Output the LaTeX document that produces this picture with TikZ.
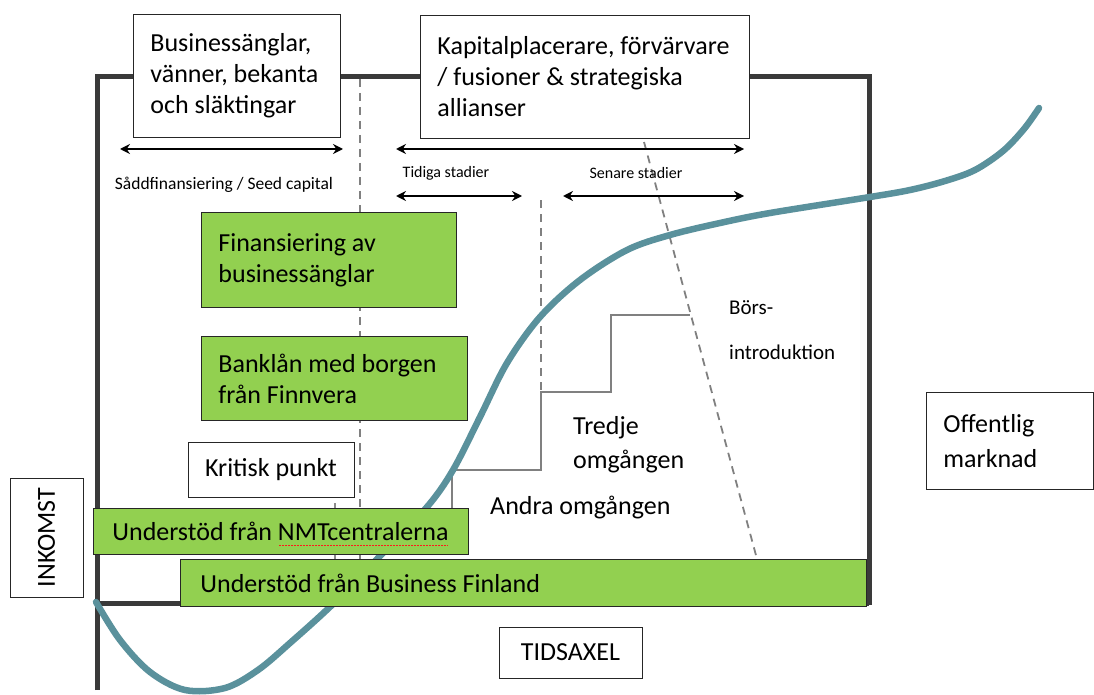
\documentclass[tikz,border=0pt]{standalone}
\usepackage{fontspec}
\setmainfont{Carlito}
\usepackage{xcolor}
\usepackage{tikz}
\usetikzlibrary{arrows.meta}
\definecolor{curveteal}{RGB}{90,145,156}
\definecolor{fundgreen}{RGB}{146,208,80}
\definecolor{framegray}{RGB}{58,58,58}
\newcommand{\labelfont}{\fontsize{26}{31}\selectfont}
\newcommand{\stagefont}{\fontsize{16}{19}\selectfont}
\newcommand{\iposfont}{\fontsize{21}{45}\selectfont}

\begin{document}
\begin{tikzpicture}[x=1pt,y=-1pt,font=\labelfont,
  box/.style={draw=black!85,fill=white,line width=0.9pt,inner ysep=0pt},
  fundbox/.style={box,fill=fundgreen},
  leftbox/.style={align=flush left,anchor=north west,inner xsep=17pt},
  frameline/.style={draw=framegray,line width=5pt},
  phaseline/.style={draw=black!50,line width=1.8pt,dash pattern=on 8pt off 6pt},
  stairline/.style={draw=black!50,line width=2pt},
  spanarrow/.style={{Stealth[length=10pt,width=10pt]}-{Stealth[length=10pt,width=10pt]},line width=1.6pt},
  growth/.style={draw=curveteal,line width=6.5pt,line cap=round}]
  \useasboundingbox (0,0) rectangle (1094,695);

  % frame, phase lines and growth curve
  \draw[frameline] (97,690) -- (97,77) -- (869,77) -- (869,605);
  \draw[frameline] (97,603) -- (869,603);
  \draw[phaseline] (360,79) -- (360,559);
  \draw[phaseline] (541,200) -- (541,392);
  \draw[phaseline] (644,142) -- (757,559);
  \draw[stairline] (452,508) -- (452,470) -- (541,470) -- (541,392)
    -- (611,392) -- (611,315) -- (690,315);
  \draw[black!45,line width=1.2pt] (335,503) -- (335,559);
  \draw[growth] plot[smooth,tension=0.55] coordinates {(96,602) (120,640)
    (150,672) (185,690) (225,688) (258,670) (290,643) (333,604) (380,556)
    (427,507) (453,470) (480,417) (507,363) (540,317) (580,280) (627,250)
    (670,235) (720,223) (770,213) (870,197) (910,190) (945,181) (975,170)
    (1003,151) (1024,129) (1039,108)};

  % span arrows
  \coordinate (seedL) at (120,149);
  \coordinate (seedR) at (343,149);
  \coordinate (laterL) at (396,149);
  \coordinate (laterR) at (744,149);
  \coordinate (earlyL) at (396,196);
  \coordinate (earlyR) at (522,196);
  \coordinate (lateL) at (563,196);
  \coordinate (lateR) at (744,196);
  \draw[spanarrow] (seedL) -- (seedR);
  \draw[spanarrow] (laterL) -- (laterR);
  \draw[spanarrow] (earlyL) -- (earlyR);
  \draw[spanarrow] (lateL) -- (lateR);
  \node[font=\fontsize{17.5}{20}\selectfont] (seedlabel) at (224,185)
    {Såddfinansiering / Seed capital};
  \node[font=\stagefont] (earlylabel) at (446,173) {Tidiga stadier};
  \node[font=\stagefont] (latelabel) at (636,173) {Senare stadier};

  % boxes
  \node[box,leftbox,text width=173pt,minimum height=123pt] (angels) at (133,14)
    {Businessänglar,\\ vänner, bekanta\\ och släktingar};
  \node[box,leftbox,text width=295pt,minimum height=123pt] (investors) at (420,15)
    {Kapitalplacerare, förvärvare\\ / fusioner \& strategiska\\ allianser};
  \node[fundbox,leftbox,text width=221pt,minimum height=95pt] (angelfund) at (201,212)
    {Finansiering av\\ businessänglar};
  \node[fundbox,leftbox,text width=232pt,minimum height=84pt] (bankloan) at (201,336)
    {Banklån med borgen\\ från Finnvera};
  \node[box,minimum width=166pt,minimum height=55pt] (critical) at (271,469.5)
    {Kritisk punkt};
  \node[fundbox,minimum width=375pt,minimum height=46pt] (nmt) at (280.5,531)
    {Understöd från NMTcentralerna};
  \draw[red!90,line width=1pt,dash pattern=on 1.5pt off 1.5pt] (279,545) -- (448,545);
  \node[fundbox,leftbox,inner xsep=20pt,text width=646pt,minimum height=47pt] (bizfin) at (180,559)
    {Understöd från Business Finland};
  \node[box,rotate=90,minimum width=119pt,minimum height=73pt] (income) at (46.5,537.5)
    {INKOMST};
  \node[box,minimum width=143pt,minimum height=51pt] (timeaxis) at (570.5,652.5)
    {TIDSAXEL};
  \node[box,leftbox,text width=133pt,minimum height=97pt,
    font=\fontsize{26}{35}\selectfont] (market) at (926,392)
    {Offentlig\\ marknad};

  % round labels
  \node[align=left,anchor=west,inner sep=0pt,font=\fontsize{26}{34}\selectfont]
    (third) at (573,445) {Tredje\\ omgången};
  \node[anchor=west,inner sep=0pt] (second) at (490,508) {Andra omgången};
  \node[align=left,anchor=west,inner sep=0pt,font=\iposfont]
    (ipo) at (729,330) {Börs-\\ introduktion};
\end{tikzpicture}
\end{document}
